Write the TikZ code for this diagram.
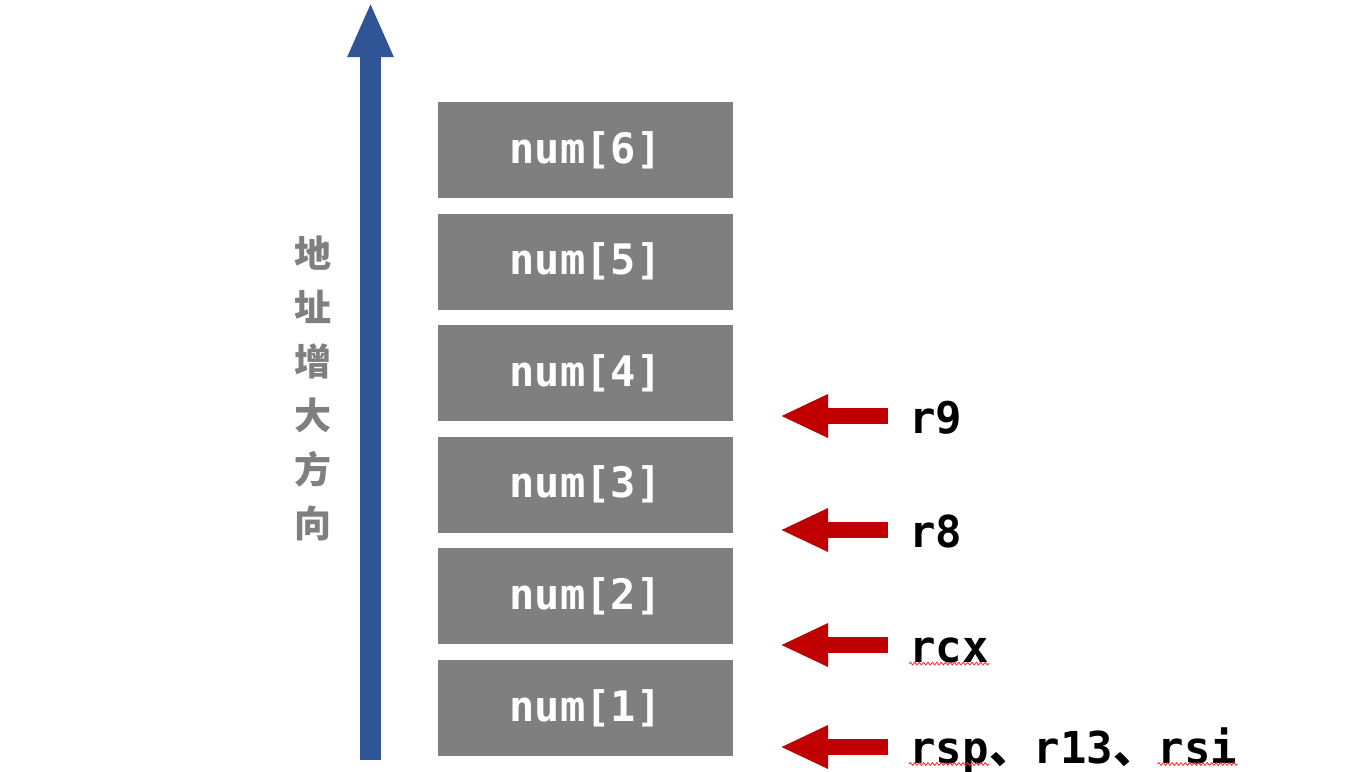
\documentclass[tikz,border=0pt]{standalone}
\usepackage{fontspec}
\usepackage{tikz}
\usetikzlibrary{positioning, arrows.meta, decorations.pathmorphing}
\newfontfamily\codefont{DejaVu Sans Mono}
\newfontfamily\cjkfont{Noto Sans CJK SC}
\definecolor{cellgray}{HTML}{7F7F7F}
\definecolor{upblue}{HTML}{2F5597}
\definecolor{ptrred}{HTML}{C00000}

\begin{document}
\begin{tikzpicture}[x=0.5pt, y=-0.5pt,
    cell/.style={fill=cellgray, text=white, minimum width=147.5pt, minimum height=48pt,
      inner sep=0pt, outer sep=0pt, font=\codefont\bfseries\fontsize{21pt}{25pt}\selectfont},
    reg/.style={anchor=base west, inner sep=0pt, font=\codefont\bfseries\fontsize{22pt}{26pt}\selectfont},
    ptr/.style={ptrred, line width=8pt, -{Triangle[length=24pt, width=20pt]}},
    uparrow/.style={upblue, line width=10.5pt, -{Triangle[length=27.5pt, width=21pt]}},
    wavy/.style={red!85, line width=0.4pt, decorate,
      decoration={snake, amplitude=0.7pt, segment length=2.2pt}}]
  \useasboundingbox (0,0) rectangle (1370,771);

  % address direction
  \coordinate (base) at (370.5,760);
  \coordinate (tip) at (370.5,2);
  \draw[uparrow] (base) -- (tip);
  \node[text=cellgray, align=center, font=\cjkfont\bfseries\fontsize{18.5pt}{27pt}\selectfont]
    (dir) at (313,388) {地\\址\\增\\大\\方\\向};

  % stack cells
  \node[cell] (n1) at (585.5,708) {num[1]};
  \node[cell, above=7.8pt of n1] (n2) {num[2]};
  \node[cell, above=7.8pt of n2] (n3) {num[3]};
  \node[cell, above=7.8pt of n3] (n4) {num[4]};
  \node[cell, above=7.8pt of n4] (n5) {num[5]};
  \node[cell, above=7.8pt of n5] (n6) {num[6]};

  % registers
  \foreach \y/\n in {416/r9, 530/r8, 645/rcx} {
    \coordinate (s\n) at (888,\y);
    \coordinate (e\n) at (780,\y);
    \draw[ptr] (s\n) -- (e\n);
    \node[reg] (l\n) at (909,\y+17) {\n};
  }
  \coordinate (ssp) at (888,747);
  \coordinate (esp) at (780,747);
  \draw[ptr] (ssp) -- (esp);
  \node[reg] (lsp) at (909,763) {rsp};
  \node[reg] (l13) at (lsp.base east) {{\cjkfont 、}r13{\cjkfont 、}};
  \node[reg] (lsi) at (l13.base east) {rsi};

  % spell marks
  \draw[wavy] ([yshift=-0.8pt]lrcx.base west) -- ([yshift=-0.8pt]lrcx.base east);
  \draw[wavy] ([yshift=-0.5pt]lsp.base west) -- ([yshift=-0.5pt]lsp.base east);
  \draw[wavy] ([yshift=-0.5pt]lsi.base west) -- ([yshift=-0.5pt]lsi.base east);
\end{tikzpicture}
\end{document}
